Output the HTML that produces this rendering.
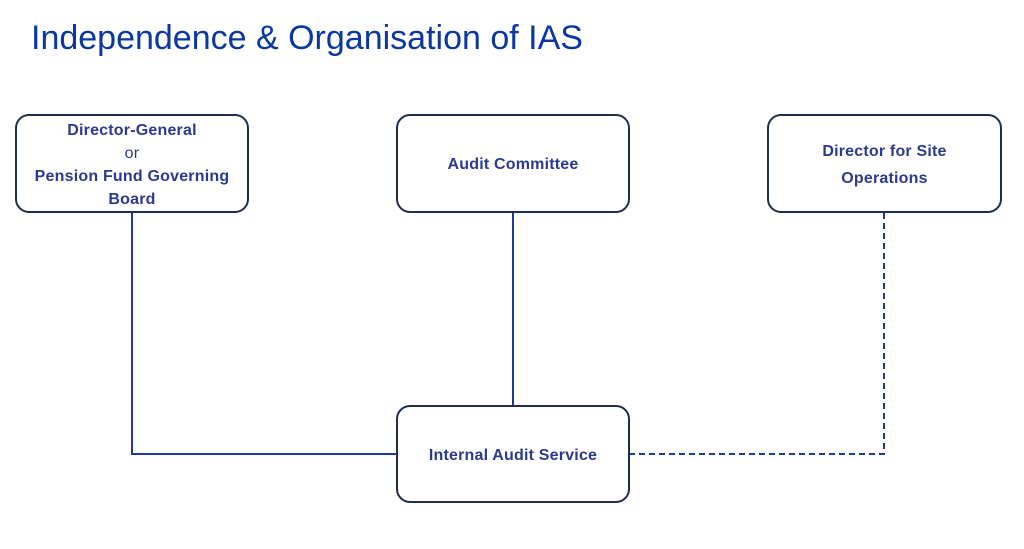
<!DOCTYPE html>
<html><head><meta charset="utf-8"><style>
body{margin:0;width:1024px;height:549px;background:#fff;position:relative;overflow:hidden;font-family:"Liberation Sans",sans-serif}
.t{position:absolute;left:31px;top:19px;font-size:34px;color:#0a37a0;white-space:nowrap}
.b{position:absolute;box-sizing:border-box;border:2px solid #1f2d4f;border-radius:14px;background:#fff;display:flex;align-items:center;justify-content:center;text-align:center;color:#2b3a8f;font-weight:bold;font-size:16px;letter-spacing:0.2px;line-height:23px;padding-top:2px}
.b span{font-weight:normal}
</style></head><body>
<div class="t">Independence &amp; Organisation of IAS</div>
<svg width="1024" height="549" style="position:absolute;left:0;top:0">
<path d="M132 212V454H397" fill="none" stroke="#1f3a9a" stroke-width="2"/>
<path d="M513 212V406" fill="none" stroke="#1f3a9a" stroke-width="2"/>
<path d="M629 454H884V212" fill="none" stroke="#1f3a9a" stroke-width="2" stroke-dasharray="6,4"/>
</svg>
<div class="b" style="left:15px;top:114px;width:234px;height:99px"><div>Director-General<br><span>or</span><br>Pension Fund Governing<br>Board</div></div>
<div class="b" style="left:396px;top:114px;width:234px;height:99px">Audit Committee</div>
<div class="b" style="left:767px;top:114px;width:235px;height:99px;line-height:27px"><div>Director for Site<br>Operations</div></div>
<div class="b" style="left:396px;top:405px;width:234px;height:98px">Internal Audit Service</div>
</body></html>
